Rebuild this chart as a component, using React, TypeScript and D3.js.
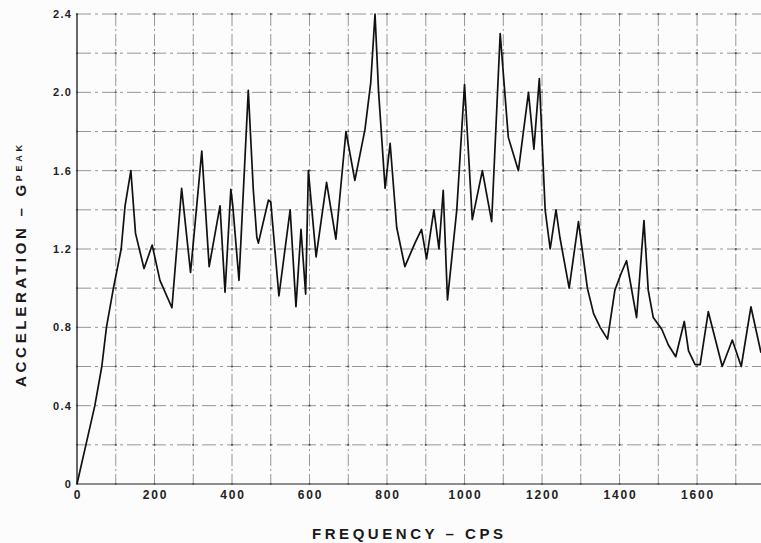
import React from "react";
import * as d3 from "d3";

const freq = [0, 23, 46, 64, 76, 94, 114, 124, 139, 151, 173, 194, 214, 245, 270, 293, 322, 341, 369, 382, 397, 402, 418, 442, 455, 464, 468, 494, 500, 521, 550, 565, 578, 590, 597, 617, 644, 668, 694, 717, 743, 758, 769, 778, 795, 808, 825, 846, 872, 889, 902, 921, 934, 945, 956, 980, 1000, 1020, 1046, 1070, 1092, 1113, 1139, 1165, 1179, 1193, 1208, 1221, 1236, 1246, 1270, 1294, 1317, 1333, 1350, 1369, 1388, 1405, 1418, 1444, 1463, 1474, 1487, 1509, 1526, 1545, 1567, 1578, 1595, 1608, 1629, 1665, 1691, 1714, 1739, 1765];
const accel = [0, 0.2, 0.4, 0.6, 0.8, 1.0, 1.2, 1.42, 1.6, 1.28, 1.1, 1.22, 1.04, 0.9, 1.51, 1.08, 1.7, 1.11, 1.42, 0.98, 1.505, 1.42, 1.04, 2.01, 1.5, 1.26, 1.23, 1.45, 1.44, 0.96, 1.4, 0.905, 1.3, 0.97, 1.6, 1.16, 1.54, 1.25, 1.8, 1.55, 1.81, 2.05, 2.4, 2.01, 1.51, 1.74, 1.31, 1.11, 1.23, 1.3, 1.15, 1.4, 1.2, 1.5, 0.94, 1.4, 2.04, 1.35, 1.6, 1.34, 2.3, 1.77, 1.6, 2.0, 1.71, 2.07, 1.4, 1.2, 1.4, 1.26, 1.0, 1.34, 1.0, 0.87, 0.8, 0.74, 0.99, 1.08, 1.14, 0.85, 1.345, 0.99, 0.85, 0.79, 0.71, 0.65, 0.83, 0.68, 0.61, 0.61, 0.88, 0.6, 0.735, 0.6, 0.905, 0.67];

const xGrid = [0, 100, 200, 300, 400, 500, 600, 700, 800, 900, 1000, 1100, 1200, 1300, 1400, 1500, 1600, 1700];
const yGrid = [0, 0.2, 0.4, 0.6, 0.8, 1.0, 1.2, 1.4, 1.6, 1.8, 2.0, 2.2, 2.4];
const xTickLabels = [0, 200, 400, 600, 800, 1000, 1200, 1400, 1600];
const yTickLabels = ["0", "0.4", "0.8", "1.2", "1.6", "2.0", "2.4"];

const W = 761;
const H = 543;

export default function App() {
  const x = d3.scaleLinear().domain([0, 1765]).range([77, 761]);
  const y = d3.scaleLinear().domain([0, 2.4]).range([484, 14]);
  const pts = freq.map((f, i) => [f, accel[i]] as [number, number]);
  const line = d3
    .line<[number, number]>()
    .x((d) => x(d[0]))
    .y((d) => y(d[1]))
    .curve(d3.curveLinear);
  const font = "'Liberation Sans', Arial, sans-serif";
  return (
    <div style={{ position: "absolute", left: 0, top: 0 }}>
      <svg width={W} height={H} style={{ display: "block", background: "#fcfcfc" }}>
        <rect x={0} y={0} width={W} height={H} fill="#fcfcfc" />
        {/* grid */}
        {xGrid.map((g) => (
          <line
            key={"xg" + g}
            x1={x(g)}
            x2={x(g)}
            y1={y(2.4)}
            y2={y(0)}
            stroke="#8a8a8a"
            strokeWidth={0.9}
            strokeDasharray={g === 0 ? undefined : "12 3 2 3"}
          />
        ))}
        {yGrid.map((g) => (
          <line
            key={"yg" + g}
            x1={x(0)}
            x2={W}
            y1={y(g)}
            y2={y(g)}
            stroke="#8a8a8a"
            strokeWidth={0.9}
            strokeDasharray={g === 0 ? undefined : "14 4 3 4"}
          />
        ))}
        {xGrid.map((gx) =>
          yGrid.map((gy) => (
            <circle key={"d" + gx + "_" + gy} cx={x(gx)} cy={y(gy)} r={1.1} fill="#555" />
          ))
        )}
        {/* axes */}
        <line x1={x(0)} x2={x(0)} y1={y(2.4)} y2={y(0)} stroke="#333" strokeWidth={1.3} />
        <line x1={x(0)} x2={W} y1={y(0)} y2={y(0)} stroke="#555" strokeWidth={1.1} />
        {/* curve */}
        <path d={line(pts) || ""} fill="none" stroke="#111" strokeWidth={1.7} strokeLinejoin="round" />
        {/* y tick labels */}
        {yTickLabels.map((t) => (
          <text
            key={"yl" + t}
            x={72}
            y={y(parseFloat(t)) + 4}
            textAnchor="end"
            fontFamily={font}
            fontWeight="bold"
            fontSize={11}
            letterSpacing={1.2}
            fill="#222"
          >
            {t}
          </text>
        ))}
        {/* x tick labels */}
        {xTickLabels.map((t) => (
          <text
            key={"xl" + t}
            x={x(t) + 1}
            y={499}
            textAnchor="middle"
            fontFamily={font}
            fontWeight="bold"
            fontSize={12}
            letterSpacing={1.8}
            fill="#222"
          >
            {t}
          </text>
        ))}
        {/* x title */}
        <text
          x={312}
          y={539}
          fontFamily={font}
          fontWeight="bold"
          fontSize={15}
          textLength={191}
          lengthAdjust="spacing"
          fill="#1a1a1a"
        >
          FREQUENCY – CPS
        </text>
        {/* y title */}
        <text
          transform="translate(26,387) rotate(-90)"
          x={0}
          y={0}
          fontFamily={font}
          fontWeight="bold"
          fontSize={15}
          fill="#1a1a1a"
          textLength={242}
          lengthAdjust="spacing"
        >
          ACCELERATION – G
          <tspan fontSize={9} dy={-4}>PEAK</tspan>
        </text>
      </svg>
    </div>
  );
}
